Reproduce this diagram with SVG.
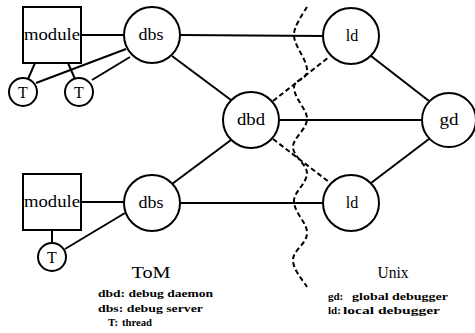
<svg xmlns="http://www.w3.org/2000/svg" width="475" height="333" viewBox="0 0 475 333">
<style>
.n{fill:#fff;stroke:#000;stroke-width:2}
.l{stroke:#000;stroke-width:2;fill:none}
.d{stroke:#000;stroke-width:2;fill:none;stroke-dasharray:5 3}
.t{font-family:'Liberation Serif','DejaVu Serif',serif;font-size:16px;text-anchor:middle;fill:#000}
.g{font-family:'Liberation Serif','DejaVu Serif',serif;font-size:11px;font-weight:bold;fill:#000}
</style>
<rect width="475" height="333" fill="#fff"/>
<g id="connectors">
<line class="l" x1="81" y1="35" x2="124" y2="35"/>
<line class="l" x1="35" y1="63" x2="28" y2="79"/>
<line class="l" x1="68" y1="63" x2="75" y2="79"/>
<line class="l" x1="126" y1="49" x2="36" y2="83"/>
<line class="l" x1="130" y1="57" x2="92" y2="80"/>
<line class="l" x1="180" y1="35" x2="323" y2="36"/>
<line class="l" x1="172" y1="56" x2="231" y2="100"/>
<line class="l" x1="279" y1="120" x2="422" y2="120"/>
<line class="d" x1="273" y1="101" x2="329" y2="57"/>
<line class="d" x1="273" y1="139" x2="329" y2="182"/>
<line class="l" x1="371" y1="56" x2="429" y2="101"/>
<line class="l" x1="371" y1="183" x2="429" y2="139"/>
<line class="l" x1="172" y1="184" x2="231" y2="140"/>
<line class="l" x1="180" y1="203" x2="323" y2="203"/>
<line class="l" x1="81" y1="202" x2="124" y2="202"/>
<line class="l" x1="52" y1="230" x2="52" y2="243"/>
<line class="l" x1="125" y1="213" x2="65" y2="249"/>
<path class="d" d="M307,7 C302,15 293,28 294,36 C295,48 308,60 307,72 C306,80 293,80 294,88 C295,100 308,110 307,120 C306,130 293,138 293,147 C293,156 307,165 307,173 C307,184 293,192 294,202 C295,214 307,222 307,233 C307,244 293,250 293,260 C293,270 303,280 307,287"/>
</g>
<g id="module1"><rect class="n" x="23" y="7" width="58" height="56"/><text class="t" x="52" y="40" textLength="56" lengthAdjust="spacingAndGlyphs">module</text></g>
<g id="dbs1"><circle class="n" cx="152" cy="35" r="28"/><text class="t" x="151" y="40" textLength="25" lengthAdjust="spacingAndGlyphs">dbs</text></g>
<g id="T1"><circle class="n" cx="23" cy="92" r="14"/><text class="t" x="23" y="98">T</text></g>
<g id="T2"><circle class="n" cx="79" cy="92" r="14"/><text class="t" x="79" y="98">T</text></g>
<g id="ld1"><circle class="n" cx="351" cy="36" r="28"/><text class="t" x="352" y="41">ld</text></g>
<g id="dbd"><circle class="n" cx="251" cy="120" r="28"/><text class="t" x="251" y="125" textLength="28" lengthAdjust="spacingAndGlyphs">dbd</text></g>
<g id="gd"><circle class="n" cx="449" cy="120" r="27"/><text class="t" x="449" y="125" textLength="19" lengthAdjust="spacingAndGlyphs">gd</text></g>
<g id="ld2"><circle class="n" cx="351" cy="203" r="28"/><text class="t" x="352" y="208">ld</text></g>
<g id="dbs2"><circle class="n" cx="152" cy="203" r="28"/><text class="t" x="151" y="208" textLength="25" lengthAdjust="spacingAndGlyphs">dbs</text></g>
<g id="module2"><rect class="n" x="23" y="174" width="58" height="56"/><text class="t" x="52" y="207" textLength="56" lengthAdjust="spacingAndGlyphs">module</text></g>
<g id="T3"><circle class="n" cx="52" cy="257" r="14"/><text class="t" x="52" y="263">T</text></g>
<g id="legend">
<text class="t" x="151" y="278" textLength="39" lengthAdjust="spacingAndGlyphs">ToM</text>
<text class="t" x="393" y="278" textLength="31" lengthAdjust="spacingAndGlyphs">Unix</text>
<text class="g" x="98" y="297" textLength="115" lengthAdjust="spacingAndGlyphs">dbd: debug daemon</text>
<text class="g" x="98" y="312" textLength="105" lengthAdjust="spacingAndGlyphs">dbs: debug server</text>
<text class="g" x="108" y="326">T:</text>
<text class="g" x="122" y="326" textLength="30" lengthAdjust="spacingAndGlyphs">thread</text>
<text class="g" x="328" y="300">gd:</text>
<text class="g" x="352" y="300" textLength="96" lengthAdjust="spacingAndGlyphs">global debugger</text>
<text class="g" x="328" y="314">ld:</text>
<text class="g" x="343" y="314" textLength="97" lengthAdjust="spacingAndGlyphs">local debugger</text>
</g>
</svg>
